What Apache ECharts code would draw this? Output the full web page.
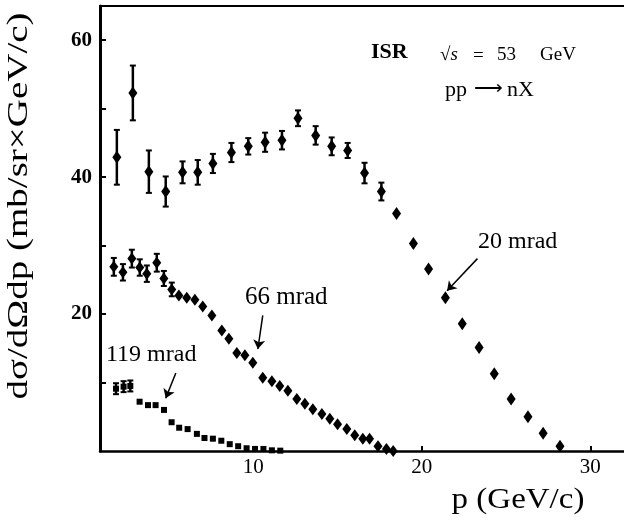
<!DOCTYPE html>
<html>
<head>
<meta charset="utf-8">
<script src="https://cdn.jsdelivr.net/npm/echarts@6/dist/echarts.min.js"></script>
<style>html,body{margin:0;padding:0;background:#fff;}#c{width:624px;height:521px;}</style>
</head>
<body>
<div id="c"></div>
<script>
// 20 mrad
const p20 = [1.9, 2.85, 3.8, 4.8, 5.8, 6.7, 7.6, 8.7, 9.7, 10.7, 11.7, 12.65, 13.7, 14.65, 15.6, 16.6, 17.6, 18.5, 19.5, 20.4, 21.4, 22.4, 23.4, 24.3, 25.3, 26.3, 27.2, 28.2];
const v20 = [42.9, 52.3, 40.8, 37.9, 40.7, 40.7, 42.0, 43.6, 44.5, 45.1, 45.4, 48.6, 46.1, 44.5, 43.9, 40.6, 37.9, 34.7, 30.3, 26.6, 22.4, 18.6, 15.1, 11.3, 7.6, 5.0, 2.6, 0.7];
const e20 = [4.0, 4.0, 3.1, 2.2, 1.6, 1.8, 1.4, 1.4, 1.2, 1.4, 1.35, 1.15, 1.35, 1.3, 1.1, 1.5, 1.3, 0, 0, 0, 0, 0, 0, 0, 0, 0, 0, 0];
// 66 mrad
const p66 = [1.72, 2.26, 2.79, 3.26, 3.68, 4.27, 4.69, 5.16, 5.58, 6.05, 6.53, 7.0, 7.54, 8.13, 8.55, 9.02, 9.5, 9.97, 10.56, 11.1, 11.57, 12.05, 12.58, 13.06, 13.53, 14.07, 14.54, 15.0, 15.55, 16.02, 16.5, 16.9, 17.4, 17.9, 18.3];
const v66 = [26.9, 26.1, 28.1, 26.8, 25.9, 27.5, 25.2, 23.6, 22.7, 22.4, 22.1, 21.1, 19.8, 17.6, 16.4, 14.3, 14.0, 12.9, 10.7, 10.2, 9.5, 8.8, 7.6, 6.9, 6.1, 5.4, 4.7, 3.9, 3.2, 2.3, 1.8, 1.8, 0.7, 0.3, 0.0];
const e66 = [1.3, 1.2, 1.3, 1.2, 1.2, 1.3, 1.1, 1.0, 0, 0, 0, 0, 0, 0, 0, 0, 0, 0, 0, 0, 0, 0, 0, 0, 0, 0, 0, 0, 0, 0, 0, 0, 0, 0, 0];
// 119 mrad
const p119 = [1.85, 2.3, 2.7, 3.25, 3.75, 4.2, 4.7, 5.15, 5.6, 6.1, 6.65, 7.1, 7.6, 8.1, 8.6, 9.1, 9.6, 10.1, 10.6, 11.1, 11.6];
const v119 = [9.1, 9.4, 9.5, 7.2, 6.7, 6.7, 6.0, 4.2, 3.4, 3.2, 2.5, 1.9, 1.8, 1.5, 1.0, 0.7, 0.4, 0.3, 0.3, 0.1, 0.05];
const e119 = [0.8, 0.8, 0.8, 0, 0, 0, 0, 0, 0, 0, 0, 0, 0, 0, 0, 0, 0, 0, 0, 0, 0];
// axis ticks
const xTickLabels = [10, 20, 30];
const yTickLabels = [20, 40, 60];
const yTicks = [10, 20, 30, 40, 50, 60];

const FONT = '"Liberation Serif", "Times New Roman", serif';

function pts(p, v) { return p.map((x, i) => [x, v[i]]); }
function errs(p, v, e) {
  const out = [];
  p.forEach((x, i) => { if (e[i] > 0) out.push([x, v[i] - e[i], v[i] + e[i]]); });
  return out;
}
function errRender(params, api) {
  const x = api.value(0), lo = api.value(1), hi = api.value(2);
  const a = api.coord([x, hi]), b = api.coord([x, lo]);
  const w = 3;
  const st = { stroke: '#000', lineWidth: 2.5 };
  return { type: 'group', children: [
    { type: 'line', shape: { x1: a[0], y1: a[1], x2: b[0], y2: b[1] }, style: st },
    { type: 'line', shape: { x1: a[0] - w, y1: a[1], x2: a[0] + w, y2: a[1] }, style: { stroke: '#000', lineWidth: 2 } },
    { type: 'line', shape: { x1: b[0] - w, y1: b[1], x2: b[0] + w, y2: b[1] }, style: { stroke: '#000', lineWidth: 2 } }
  ]};
}
function arrow(from, to) {
  return { silent: true, symbol: ['none', 'arrow'], symbolSize: 9,
    label: { show: false }, lineStyle: { color: '#000', width: 1.5, type: 'solid' },
    emphasis: { disabled: true }, animation: false,
    data: [[{ coord: from }, { coord: to }]] };
}
function txt(x, y, text, size, extra) {
  return Object.assign({ type: 'text', x: x, y: y,
    style: Object.assign({ text: text, fontFamily: FONT, fontSize: size, fill: '#000', verticalAlign: 'middle' }, (extra && extra.style) || {}) },
    (extra && extra.el) || {});
}

const chart = echarts.init(document.getElementById('c'), null, { renderer: 'canvas' });
chart.setOption({
  animation: false,
  backgroundColor: '#fff',
  grid: { left: 100, right: 0, top: 6, bottom: 70 },
  xAxis: [{
    type: 'value', min: 0.9, max: 32, position: 'bottom',
    axisLine: { show: true, onZero: false, lineStyle: { color: '#000', width: 2.5 } },
    axisTick: { show: true, inside: true, length: 5, customValues: xTickLabels, lineStyle: { color: '#000', width: 2 } },
    axisLabel: { customValues: xTickLabels, color: '#000', fontFamily: FONT, fontSize: 21, margin: 6 },
    splitLine: { show: false }
  }, {
    type: 'value', min: 0.9, max: 32, position: 'top',
    axisLine: { show: true, onZero: false, lineStyle: { color: '#000', width: 2 } },
    axisTick: { show: false }, axisLabel: { show: false }, splitLine: { show: false }
  }],
  yAxis: {
    type: 'value', min: 0, max: 65,
    axisLine: { show: true, onZero: false, lineStyle: { color: '#000', width: 3 } },
    axisTick: { show: true, inside: true, length: 6, customValues: yTicks, lineStyle: { color: '#000', width: 2 } },
    axisLabel: { customValues: yTickLabels, color: '#000', fontFamily: FONT, fontSize: 21, fontWeight: 'bold', margin: 8 },
    splitLine: { show: false }
  },
  series: [
    { type: 'custom', renderItem: errRender, data: errs(p20, v20, e20), encode: { x: 0, y: [1, 2] }, z: 2 },
    { type: 'custom', renderItem: errRender, data: errs(p66, v66, e66), encode: { x: 0, y: [1, 2] }, z: 2 },
    { type: 'custom', renderItem: errRender, data: errs(p119, v119, e119), encode: { x: 0, y: [1, 2] }, z: 2 },
    { name: '20 mrad', type: 'scatter', symbol: 'diamond', symbolSize: [9, 13], itemStyle: { color: '#000', opacity: 1 },
      data: pts(p20, v20), z: 3, markLine: arrow([23.3, 28.1], [21.5, 23.4]) },
    { name: '66 mrad', type: 'scatter', symbol: 'diamond', symbolSize: [9, 12], itemStyle: { color: '#000', opacity: 1 },
      data: pts(p66, v66), z: 3, markLine: arrow([10.56, 19.8], [10.27, 14.9]) },
    { name: '119 mrad', type: 'scatter', symbol: 'rect', symbolSize: [6, 6], itemStyle: { color: '#000', opacity: 1 },
      data: pts(p119, v119), z: 3, markLine: arrow([5.4, 11.4], [4.8, 7.7]) }
  ],
  graphic: [
    txt(19, 206, 'dσ/dΩdp (mb/sr×GeV/c)', 30, { style: { align: 'center' }, el: { rotation: Math.PI / 2, scaleX: 1.3 } }),
    txt(518, 500, 'p (GeV/c)', 30, { style: { align: 'center' }, el: { scaleX: 1.1 } }),
    txt(371, 52, 'ISR', 22, { style: { fontWeight: 'bold' } }),
    txt(440, 55, '{r|√}{i|s}', 19, { style: { rich: { r: { fontFamily: FONT, fontSize: 19 }, i: { fontFamily: FONT, fontSize: 19, fontStyle: 'italic' } } } }),
    txt(473, 56, '=', 19),
    txt(497, 55, '53', 19),
    txt(540, 55, 'GeV', 19),
    txt(445, 90, 'pp', 22),
    txt(474, 89, '⟶', 20),
    txt(507, 90, 'nX', 22),
    txt(478, 242, '20 mrad', 24),
    txt(245, 297, '66 mrad', 25),
    txt(106, 355, '119 mrad', 24)
  ]
});
</script>
</body>
</html>
